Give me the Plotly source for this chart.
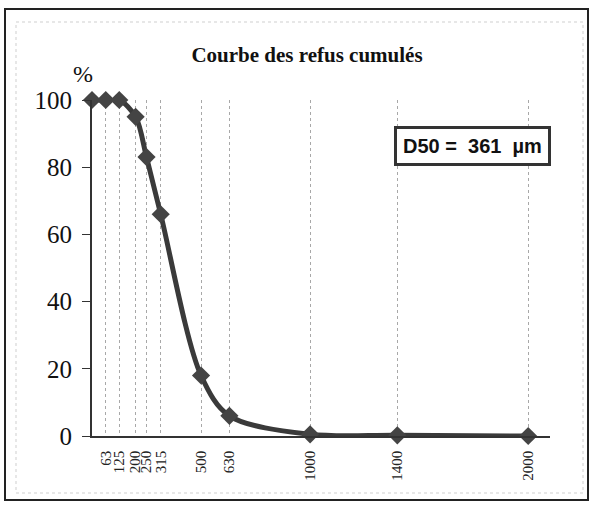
import plotly.graph_objects as go

sizes = [0, 63, 125, 200, 250, 315, 500, 630, 1000, 1400, 2000]
refus = [100, 100, 100, 95, 83, 66, 18, 6, 0.5, 0.2, 0]
tick_vals = [63, 125, 200, 250, 315, 500, 630, 1000, 1400, 2000]
tick_text = [str(v) for v in tick_vals]
y_ticks = [0, 20, 40, 60, 80, 100]

L, R, T, B = 92, 40, 100, 72
W, H = 590, 508
pw, ph = W - L - R, H - T - B

def px(x):
    return (x - L) / pw

def py(y):
    return (H - B - y) / ph

fig = go.Figure()
fig.add_trace(go.Scatter(
    x=sizes, y=refus, mode="lines+markers",
    line=dict(color="#3a3a3a", width=5, shape="spline", smoothing=0.9),
    marker=dict(symbol="diamond", size=14, color="#444444"),
    cliponaxis=False, showlegend=False,
))

fig.update_layout(
    width=W, height=H,
    margin=dict(l=L, r=R, t=T, b=B),
    paper_bgcolor="white", plot_bgcolor="white",
    title=dict(text="<b>Courbe des refus cumulés</b>", x=307 / W, xanchor="center",
               y=1 - 55 / H, yanchor="middle",
               font=dict(family="Liberation Serif", size=21, color="#111")),
    xaxis=dict(range=[0, 2100], tickmode="array", tickvals=tick_vals, ticktext=tick_text,
               tickangle=-90, tickfont=dict(family="Liberation Serif", size=15, color="#222"),
               showgrid=True, gridcolor="#a8a8a8", gridwidth=1, griddash="dot",
               showline=True, linecolor="#333", linewidth=1.5, zeroline=False,
               ticks="", ticklabelstandoff=7),
    yaxis=dict(range=[0, 100], tickmode="array", tickvals=y_ticks,
               tickfont=dict(family="Liberation Serif", size=25, color="#111"),
               showgrid=False, showline=True, linecolor="#333", linewidth=2,
               ticks="outside", ticklen=8, tickcolor="#333", zeroline=False,
               ticklabelstandoff=5),
    shapes=[
        dict(type="rect", xref="paper", yref="paper",
             x0=px(5), x1=px(588), y0=py(500), y1=py(9),
             line=dict(color="#222", width=2)),
        dict(type="rect", xref="paper", yref="paper",
             x0=px(16), x1=px(583), y0=py(493), y1=py(22),
             line=dict(color="#cfcfcf", width=1, dash="dot")),
    ],
    annotations=[
        dict(text="%", xref="paper", yref="paper", x=px(83), y=py(74),
             xanchor="center", yanchor="middle",
             showarrow=False, font=dict(family="Liberation Serif", size=24, color="#111")),
        dict(text="<b>D50 =\u00a0 361\u00a0 µm</b>", xref="paper", yref="paper",
             x=px(472), y=py(146), xanchor="center", yanchor="middle", showarrow=False,
             font=dict(family="Liberation Sans", size=20, color="#111"),
             bgcolor="white", bordercolor="#333", borderwidth=3, borderpad=6),
    ],
)

fig.write_html("out.html", config={"displayModeBar": False},
               post_script="document.body.style.margin='0';document.body.style.padding='0';")
